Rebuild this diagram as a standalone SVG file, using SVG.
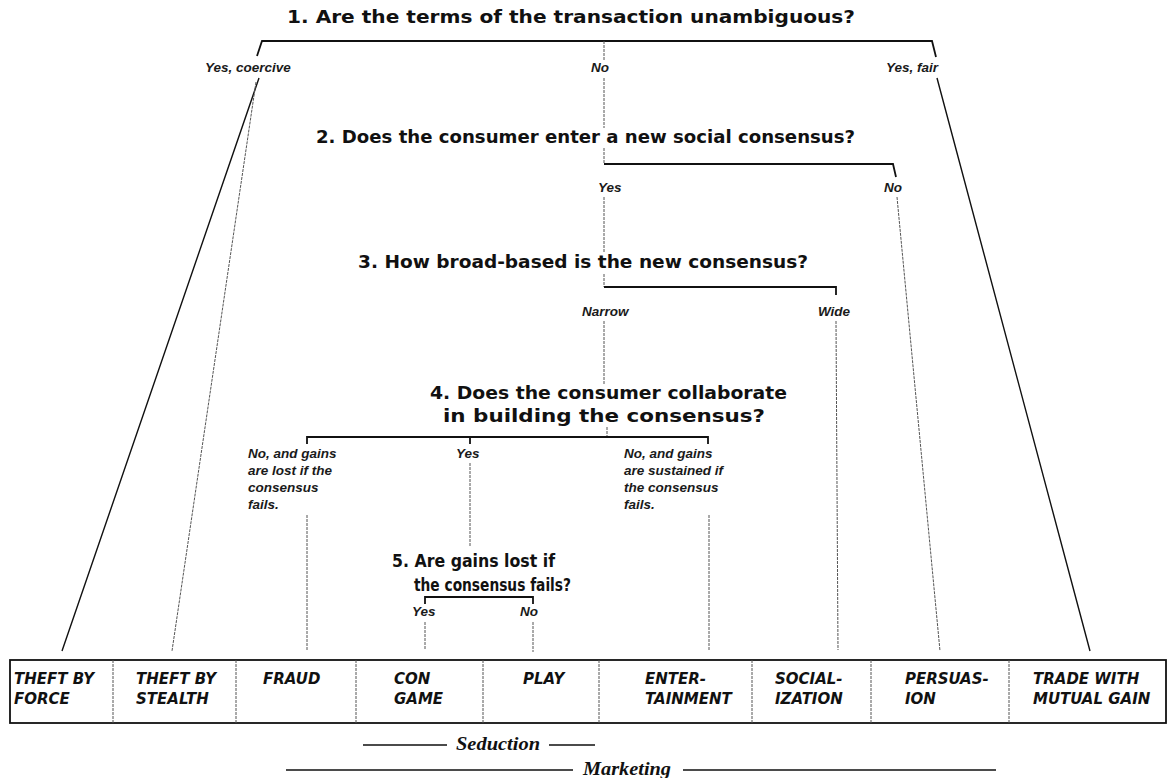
<svg xmlns="http://www.w3.org/2000/svg" width="1167" height="778" viewBox="0 0 1167 778">
<style>
.q{font-family:"DejaVu Sans","Liberation Sans",sans-serif;font-weight:bold;font-size:17px;fill:#111}
.l{font-family:"Liberation Sans",Arial,sans-serif;font-weight:bold;font-style:italic;font-size:13.5px;fill:#1a1a1a}
.b{font-family:"DejaVu Sans","Liberation Sans",sans-serif;font-weight:bold;font-style:italic;font-size:15px;fill:#111}
.s{font-family:"Liberation Serif","Times New Roman",serif;font-weight:bold;font-style:italic;font-size:19px;fill:#111}
.br{stroke:#111;stroke-width:1.8;fill:none}
.th{stroke:#555;stroke-width:1;fill:none;stroke-dasharray:3 1}
.so{stroke:#111;stroke-width:1.4;fill:none}
.box{stroke:#111;stroke-width:1.8;fill:none}
</style>
<rect width="1167" height="778" fill="#fff"/>
<g id="connectors">
<path class="br" d="M257,56 L262,41 L932,41 L936,57"/>
<path class="th" d="M604,41 V60 M604,78 V128 M604,148 V164"/>
<path class="br" d="M604,164 H893 L896,177"/>
<path class="th" d="M604,197 V252 M604,274 V287"/>
<path class="br" d="M604,287 H836 V295"/>
<path class="th" d="M604,321 V384 M607,427 V437"/>
<path class="br" d="M307,444 V437 H708 V444 M470,437 V444"/>
<path class="th" d="M470,463 V547"/>
<path class="br" d="M425,604 V597 H533 V604"/>
<path class="th" d="M425,622 V650 M533,622 V652"/>
<path class="th" d="M307,515 V650 M709,515 V650 M836,321 L838,650 M897,197 L940,651"/>
<path class="so" d="M937,78 L1090,651 M259,78 L62,651"/>
<path class="th" d="M256,82 L172,651"/>
</g>
<g id="q1"><text class="q" x="287" y="23" textLength="568" lengthAdjust="spacingAndGlyphs">1. Are the terms of the transaction unambiguous?</text></g>
<g id="q1-labels">
<text class="l" x="205" y="72">Yes, coercive</text>
<text class="l" x="600" y="72" text-anchor="middle">No</text>
<text class="l" x="886" y="72">Yes, fair</text>
</g>
<g id="q2"><text class="q" x="316" y="143" textLength="539" lengthAdjust="spacingAndGlyphs">2. Does the consumer enter a new social consensus?</text></g>
<g id="q2-labels">
<text class="l" x="598" y="192">Yes</text>
<text class="l" x="884" y="192">No</text>
</g>
<g id="q3"><text class="q" x="358" y="268" textLength="450" lengthAdjust="spacingAndGlyphs">3. How broad-based is the new consensus?</text></g>
<g id="q3-labels">
<text class="l" x="582" y="316">Narrow</text>
<text class="l" x="818" y="316">Wide</text>
</g>
<g id="q4">
<text class="q" x="430" y="399" textLength="357" lengthAdjust="spacingAndGlyphs">4. Does the consumer collaborate</text>
<text class="q" x="443" y="422" textLength="322" lengthAdjust="spacingAndGlyphs">in building the consensus?</text>
</g>
<g id="q4-labels">
<text class="l" x="248" y="458">No, and gains</text>
<text class="l" x="248" y="475">are lost if the</text>
<text class="l" x="248" y="492">consensus</text>
<text class="l" x="248" y="509">fails.</text>
<text class="l" x="456" y="458">Yes</text>
<text class="l" x="624" y="458">No, and gains</text>
<text class="l" x="624" y="475">are sustained if</text>
<text class="l" x="624" y="492">the consensus</text>
<text class="l" x="624" y="509">fails.</text>
</g>
<g id="q5">
<text class="q" x="392" y="567" textLength="163" lengthAdjust="spacingAndGlyphs">5.  Are gains lost if</text>
<text class="q" x="414" y="591" textLength="157" lengthAdjust="spacingAndGlyphs">the consensus fails?</text>
</g>
<g id="q5-labels">
<text class="l" x="412" y="616">Yes</text>
<text class="l" x="520" y="616">No</text>
</g>
<g id="outcomes">
<rect class="box" x="10" y="660" width="1156" height="63"/>
<path class="th" d="M113,660 V723 M236,660 V723 M356,660 V723 M483,660 V723 M599,660 V723 M752,660 V723 M871,660 V723 M1009,660 V723"/>
<g id="theft-force"><text class="b" x="14" y="684">THEFT BY</text><text class="b" x="14" y="704">FORCE</text></g>
<g id="theft-stealth"><text class="b" x="136" y="684">THEFT BY</text><text class="b" x="136" y="704">STEALTH</text></g>
<g id="fraud"><text class="b" x="263" y="684">FRAUD</text></g>
<g id="con-game"><text class="b" x="394" y="684">CON</text><text class="b" x="394" y="704">GAME</text></g>
<g id="play"><text class="b" x="523" y="684">PLAY</text></g>
<g id="entertainment"><text class="b" x="645" y="684">ENTER-</text><text class="b" x="645" y="704">TAINMENT</text></g>
<g id="socialization"><text class="b" x="775" y="684">SOCIAL-</text><text class="b" x="775" y="704">IZATION</text></g>
<g id="persuasion"><text class="b" x="905" y="684">PERSUAS-</text><text class="b" x="905" y="704">ION</text></g>
<g id="trade"><text class="b" x="1033" y="684">TRADE WITH</text><text class="b" x="1033" y="704">MUTUAL GAIN</text></g>
</g>
<g id="seduction">
<path class="so" d="M363,745 H447 M549,745 H595"/>
<text class="s" x="456" y="750" textLength="84" lengthAdjust="spacingAndGlyphs">Seduction</text>
</g>
<g id="marketing">
<path class="so" d="M286,770 H573 M683,770 H996"/>
<text class="s" x="583" y="775" textLength="88" lengthAdjust="spacingAndGlyphs">Marketing</text>
</g>
</svg>
